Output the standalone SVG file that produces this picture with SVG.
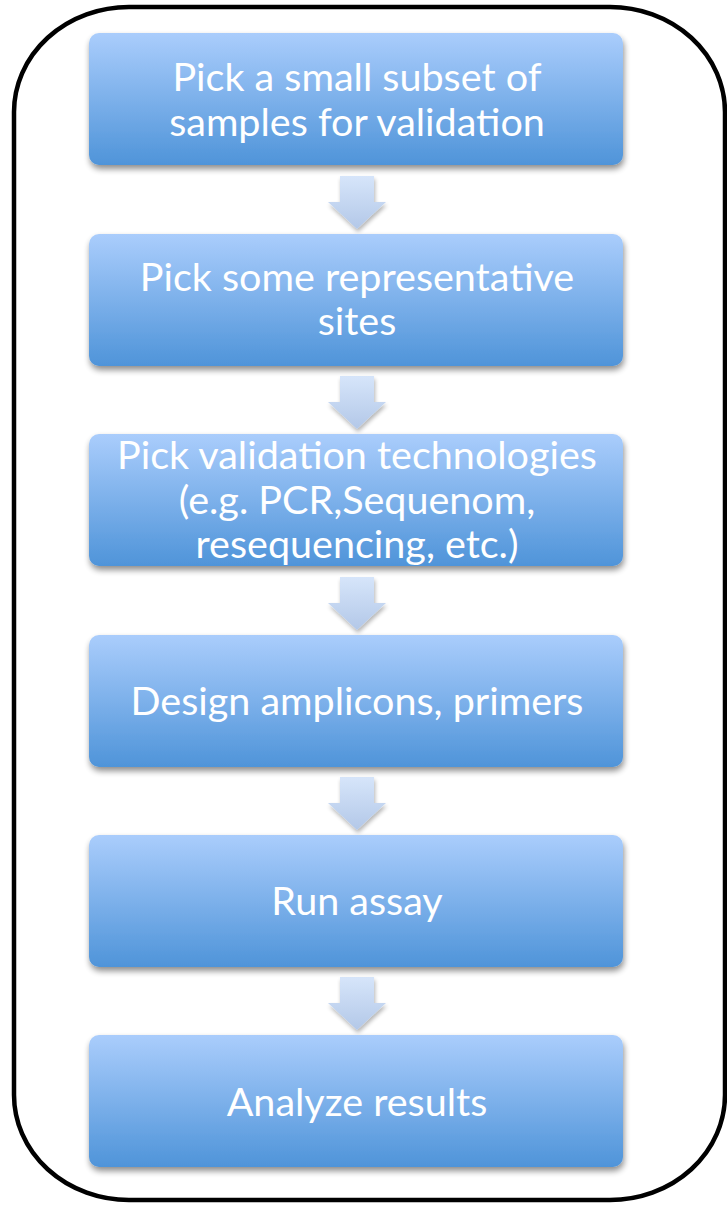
<svg xmlns="http://www.w3.org/2000/svg" width="727" height="1205" viewBox="0 0 727 1205">
<style>
.box{fill:url(#bg);filter:url(#sh)}
.arr{fill:url(#ag);filter:url(#sh2)}
.t{font-family:"Lato","Open Sans",sans-serif;font-size:39.5px;fill:#ffffff;text-anchor:middle}
</style>
<defs>
<linearGradient id="bg" x1="0" y1="0" x2="0" y2="1">
<stop offset="0" stop-color="#aacdfc"/>
<stop offset="1" stop-color="#4f94d9"/>
</linearGradient>
<linearGradient id="ag" x1="0" y1="0" x2="0" y2="1">
<stop offset="0" stop-color="#d6e5fa"/>
<stop offset="1" stop-color="#b3c8e8"/>
</linearGradient>
<filter id="sh" x="-10%" y="-10%" width="120%" height="130%">
<feGaussianBlur in="SourceAlpha" stdDeviation="3"/>
<feOffset dx="1" dy="4" result="b"/>
<feComponentTransfer><feFuncA type="linear" slope="0.45"/></feComponentTransfer>
<feMerge><feMergeNode/><feMergeNode in="SourceGraphic"/></feMerge>
</filter>
<filter id="sh2" x="-30%" y="-30%" width="160%" height="160%">
<feGaussianBlur in="SourceAlpha" stdDeviation="2"/>
<feOffset dx="1" dy="3"/>
<feComponentTransfer><feFuncA type="linear" slope="0.3"/></feComponentTransfer>
<feMerge><feMergeNode/><feMergeNode in="SourceGraphic"/></feMerge>
</filter>
</defs>
<rect x="0" y="0" width="727" height="1205" fill="#ffffff"/>
<rect id="frame" x="14" y="7" width="711" height="1193" rx="115" ry="105" fill="none" stroke="#000000" stroke-width="4.5"/>
<g id="connectors">
<path class="arr" d="M340,176 H374 V202 H386 L357,229 L328,202 H340 Z"/>
<path class="arr" d="M340,376 H374 V402 H386 L357,429 L328,402 H340 Z"/>
<path class="arr" d="M340,577 H374 V603 H386 L357,630 L328,603 H340 Z"/>
<path class="arr" d="M340,777 H374 V803 H386 L357,830 L328,803 H340 Z"/>
<path class="arr" d="M340,977 H374 V1003 H386 L357,1030 L328,1003 H340 Z"/>
</g>
<g id="n1"><rect class="box" x="89" y="33" width="534" height="132" rx="10"/>
<text class="t" x="357" y="91">Pick a small subset of</text>
<text class="t" x="357" y="136">samples for validation</text></g>
<g id="n2"><rect class="box" x="89" y="234" width="534" height="132" rx="10"/>
<text class="t" x="357" y="291">Pick some representative</text>
<text class="t" x="357" y="335">sites</text></g>
<g id="n3"><rect class="box" x="89" y="434" width="534" height="132" rx="10"/>
<text class="t" x="357" y="469">Pick validation technologies</text>
<text class="t" x="357" y="514">(e.g. PCR,Sequenom,</text>
<text class="t" x="357" y="558">resequencing, etc.)</text></g>
<g id="n4"><rect class="box" x="89" y="635" width="534" height="132" rx="10"/>
<text class="t" x="357" y="715">Design amplicons, primers</text></g>
<g id="n5"><rect class="box" x="89" y="835" width="534" height="132" rx="10"/>
<text class="t" x="357" y="915">Run assay</text></g>
<g id="n6"><rect class="box" x="89" y="1035" width="534" height="132" rx="10"/>
<text class="t" x="357" y="1116">Analyze results</text></g>
</svg>
